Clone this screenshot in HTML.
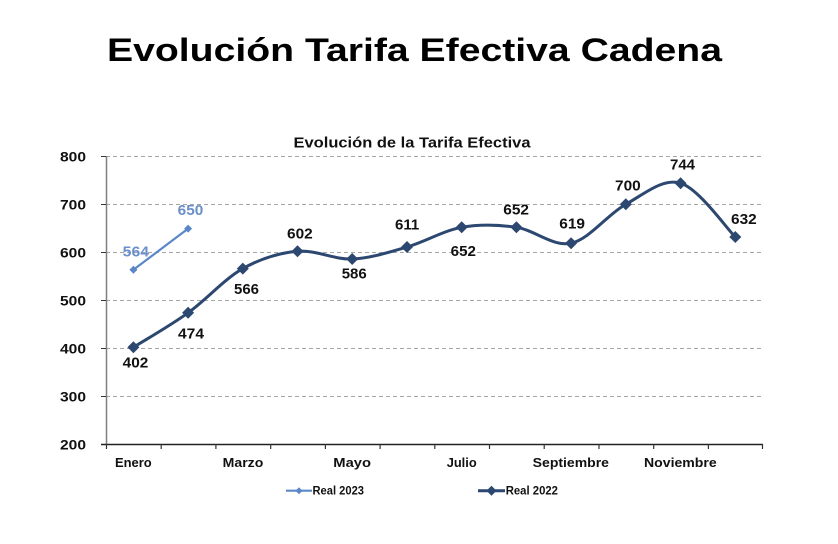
<!DOCTYPE html>
<html>
<head>
<meta charset="utf-8">
<style>
  html, body { margin:0; padding:0; background:#ffffff; }
  body { width:838px; height:544px; overflow:hidden; }
  svg { display:block; }
  text { font-family: "Liberation Sans", "DejaVu Sans", sans-serif; font-weight:bold; }
</style>
</head>
<body>
<svg width="838" height="544" viewBox="0 0 838 544" xmlns="http://www.w3.org/2000/svg">
  <rect width="838" height="544" fill="#ffffff"/>

  <!-- Main title -->
  <text x="107" y="61" font-size="32" fill="#000" textLength="615" lengthAdjust="spacingAndGlyphs">Evolución Tarifa Efectiva Cadena</text>

  <!-- Chart title -->
  <text x="293.5" y="147.5" font-size="15" fill="#111" textLength="237" lengthAdjust="spacingAndGlyphs">Evolución de la Tarifa Efectiva</text>

  <!-- Gridlines -->
  <g stroke="#a6a6a6" stroke-width="1" stroke-dasharray="4,3">
    <line x1="106" y1="156.5" x2="761" y2="156.5"/>
    <line x1="106" y1="204.5" x2="761" y2="204.5"/>
    <line x1="106" y1="252.5" x2="761" y2="252.5"/>
    <line x1="106" y1="300.5" x2="761" y2="300.5"/>
    <line x1="106" y1="348.5" x2="761" y2="348.5"/>
    <line x1="106" y1="396.5" x2="761" y2="396.5"/>
  </g>

  <!-- Y axis -->
  <line x1="106.5" y1="156" x2="106.5" y2="445" stroke="#7f7f7f" stroke-width="1.5"/>
  <g stroke="#333" stroke-width="1">
    <line x1="101" y1="156.5" x2="106" y2="156.5"/>
    <line x1="101" y1="204.5" x2="106" y2="204.5"/>
    <line x1="101" y1="252.5" x2="106" y2="252.5"/>
    <line x1="101" y1="300.5" x2="106" y2="300.5"/>
    <line x1="101" y1="348.5" x2="106" y2="348.5"/>
    <line x1="101" y1="396.5" x2="106" y2="396.5"/>
    <line x1="101" y1="444.5" x2="106" y2="444.5"/>
  </g>

  <!-- X axis -->
  <line x1="101" y1="444.5" x2="763" y2="444.5" stroke="#222" stroke-width="1.5"/>
  <g stroke="#333" stroke-width="1.2">
    <line x1="106.5" y1="444" x2="106.5" y2="449"/>
    <line x1="161.2" y1="444" x2="161.2" y2="449"/>
    <line x1="215.9" y1="444" x2="215.9" y2="449"/>
    <line x1="270.7" y1="444" x2="270.7" y2="449"/>
    <line x1="325.4" y1="444" x2="325.4" y2="449"/>
    <line x1="380.1" y1="444" x2="380.1" y2="449"/>
    <line x1="434.8" y1="444" x2="434.8" y2="449"/>
    <line x1="489.5" y1="444" x2="489.5" y2="449"/>
    <line x1="544.2" y1="444" x2="544.2" y2="449"/>
    <line x1="599.0" y1="444" x2="599.0" y2="449"/>
    <line x1="653.7" y1="444" x2="653.7" y2="449"/>
    <line x1="708.4" y1="444" x2="708.4" y2="449"/>
    <line x1="762.5" y1="444" x2="762.5" y2="449"/>
  </g>

  <!-- Y labels -->
  <g font-size="14" fill="#111">
    <text x="60" y="161.5" textLength="26" lengthAdjust="spacingAndGlyphs">800</text>
    <text x="60" y="209.5" textLength="26" lengthAdjust="spacingAndGlyphs">700</text>
    <text x="60" y="257.5" textLength="26" lengthAdjust="spacingAndGlyphs">600</text>
    <text x="60" y="305.5" textLength="26" lengthAdjust="spacingAndGlyphs">500</text>
    <text x="60" y="353.5" textLength="26" lengthAdjust="spacingAndGlyphs">400</text>
    <text x="60" y="401.5" textLength="26" lengthAdjust="spacingAndGlyphs">300</text>
    <text x="60" y="449.5" textLength="26" lengthAdjust="spacingAndGlyphs">200</text>
  </g>

  <!-- X labels -->
  <g font-size="13" fill="#111">
    <text x="115" y="467" textLength="36.7" lengthAdjust="spacingAndGlyphs">Enero</text>
    <text x="222.7" y="467" textLength="40.6" lengthAdjust="spacingAndGlyphs">Marzo</text>
    <text x="333.3" y="467" textLength="37.7" lengthAdjust="spacingAndGlyphs">Mayo</text>
    <text x="446.7" y="467" textLength="30" lengthAdjust="spacingAndGlyphs">Julio</text>
    <text x="532.7" y="467" textLength="76.3" lengthAdjust="spacingAndGlyphs">Septiembre</text>
    <text x="644" y="467" textLength="72.7" lengthAdjust="spacingAndGlyphs">Noviembre</text>
  </g>

  <!-- Real 2022 smooth line -->
  <path fill="none" stroke="#2c4770" stroke-width="3" stroke-linejoin="round" stroke-linecap="round"
    d="M133.4,347.3
       C142.5,341.55 169.9,325.9 188.1,312.8
       C206.3,299.7 224.6,278.85 242.8,268.6
       C261.0,258.35 279.3,252.9 297.5,251.3
       C315.7,249.7 334.0,259.72 352.2,259.0
       C370.4,258.28 388.8,252.28 407.0,247.0
       C425.2,241.72 443.5,230.58 461.7,227.3
       C479.9,224.02 498.2,224.65 516.4,227.3
       C534.6,229.95 552.9,247.03 571.1,243.2
       C589.3,239.37 607.6,214.3 625.8,204.3
       C644.0,194.3 662.4,177.75 680.6,183.2
       C698.8,188.65 726.2,228.03 735.3,237.0"/>

  <!-- Real 2022 markers -->
  <g fill="#2c4770">
    <path d="M133.4,341.3 l6,6 l-6,6 l-6,-6z"/>
    <path d="M188.1,306.8 l6,6 l-6,6 l-6,-6z"/>
    <path d="M242.8,262.6 l6,6 l-6,6 l-6,-6z"/>
    <path d="M297.5,245.3 l6,6 l-6,6 l-6,-6z"/>
    <path d="M352.2,253.0 l6,6 l-6,6 l-6,-6z"/>
    <path d="M407.0,241.0 l6,6 l-6,6 l-6,-6z"/>
    <path d="M461.7,221.3 l6,6 l-6,6 l-6,-6z"/>
    <path d="M516.4,221.3 l6,6 l-6,6 l-6,-6z"/>
    <path d="M571.1,237.2 l6,6 l-6,6 l-6,-6z"/>
    <path d="M625.8,198.3 l6,6 l-6,6 l-6,-6z"/>
    <path d="M680.6,177.2 l6,6 l-6,6 l-6,-6z"/>
    <path d="M735.3,231.0 l6,6 l-6,6 l-6,-6z"/>
  </g>

  <!-- Real 2023 line -->
  <line x1="133.4" y1="269.8" x2="188.1" y2="228.6" stroke="#5b87c8" stroke-width="2.2"/>
  <g fill="#5b87c8">
    <path d="M133.4,265.8 l4,4 l-4,4 l-4,-4z"/>
    <path d="M188.1,224.6 l4,4 l-4,4 l-4,-4z"/>
  </g>

  <!-- Data labels 2022 -->
  <g font-size="15" fill="#111">
    <text x="122.7" y="367.5" textLength="25.6" lengthAdjust="spacingAndGlyphs">402</text>
    <text x="178" y="338.5" textLength="26" lengthAdjust="spacingAndGlyphs">474</text>
    <text x="234" y="294" textLength="25" lengthAdjust="spacingAndGlyphs">566</text>
    <text x="287" y="238.3" textLength="25.7" lengthAdjust="spacingAndGlyphs">602</text>
    <text x="341.7" y="278.3" textLength="25" lengthAdjust="spacingAndGlyphs">586</text>
    <text x="395" y="229.3" textLength="24.3" lengthAdjust="spacingAndGlyphs">611</text>
    <text x="450.7" y="256" textLength="25.3" lengthAdjust="spacingAndGlyphs">652</text>
    <text x="503.3" y="214.3" textLength="25.7" lengthAdjust="spacingAndGlyphs">652</text>
    <text x="559.3" y="228.3" textLength="25.7" lengthAdjust="spacingAndGlyphs">619</text>
    <text x="615" y="190.7" textLength="25.7" lengthAdjust="spacingAndGlyphs">700</text>
    <text x="670" y="169.5" textLength="25" lengthAdjust="spacingAndGlyphs">744</text>
    <text x="731" y="224" textLength="25.7" lengthAdjust="spacingAndGlyphs">632</text>
  </g>

  <!-- Data labels 2023 -->
  <g font-size="15" fill="#6a8fca">
    <text x="122.7" y="256.7" textLength="26.3" lengthAdjust="spacingAndGlyphs">564</text>
    <text x="177.7" y="215" textLength="25.6" lengthAdjust="spacingAndGlyphs">650</text>
  </g>

  <!-- Legend -->
  <line x1="286" y1="490.7" x2="312" y2="490.7" stroke="#5b87c8" stroke-width="2.2"/>
  <path d="M299,487.2 l3.5,3.5 l-3.5,3.5 l-3.5,-3.5z" fill="#5b87c8"/>
  <text x="312.5" y="494.5" font-size="11.5" fill="#111" textLength="51.5" lengthAdjust="spacingAndGlyphs">Real 2023</text>

  <line x1="478" y1="490.7" x2="505" y2="490.7" stroke="#2c4770" stroke-width="3"/>
  <path d="M491.5,485.7 l5,5 l-5,5 l-5,-5z" fill="#2c4770"/>
  <text x="505.7" y="494.5" font-size="11.5" fill="#111" textLength="52.3" lengthAdjust="spacingAndGlyphs">Real 2022</text>
</svg>
</body>
</html>
